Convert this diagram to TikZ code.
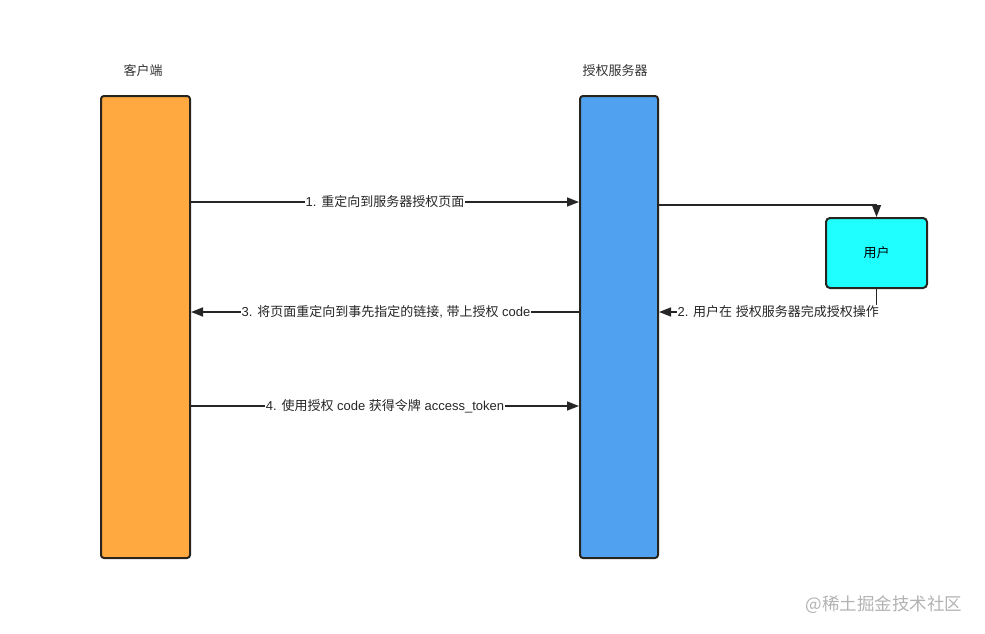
\documentclass[tikz,border=0pt]{standalone}
\usepackage{fontspec}
\setmainfont{Liberation Sans}
\newfontfamily\cjk{Noto Sans CJK SC}
\usetikzlibrary{arrows.meta}
\definecolor{orangebox}{RGB}{255,169,64}
\definecolor{bluebox}{RGB}{80,162,240}
\definecolor{cyanbox}{RGB}{32,255,255}
\definecolor{edge}{RGB}{40,36,30}
\tikzset{
  lane/.style={draw=edge, line width=2pt, rounded corners=3pt, minimum width=#1, anchor=north west, inner sep=0pt},
  title/.style={font=\fontsize{13}{15}\selectfont\cjk, text=black!80},
  msg/.style={font=\fontsize{13}{15}\selectfont, fill=white, inner sep=1pt, text=black!85},
  conn/.style={draw=black!85, line width=1.6pt, -{Triangle[length=12pt,width=9pt]}},
}
\begin{document}
\begin{tikzpicture}[x=1pt,y=-1pt]
\useasboundingbox (0,0) rectangle (985,634);
\node[lane=89pt, fill=orangebox, minimum height=462pt] (client) at (100,95) {};
\node[lane=78pt, fill=bluebox, minimum height=462pt] (server) at (579,95) {};
\node[draw=edge, line width=2pt, rounded corners=4pt, fill=cyanbox, minimum width=101pt, minimum height=70pt, inner sep=0pt, font=\fontsize{13}{15}\selectfont\cjk] (user) at (876.5,253) {用户};
\node[title] (tclient) at (143,71) {客户端};
\node[title] (tserver) at (615,71) {授权服务器};
% 1
\draw[conn] (client.east |- 0,202) -- node[msg] (m1) {1. {\cjk 重定向到服务器授权页面}} (server.west |- 0,202);
% 3
\draw[conn] (server.west |- 0,312) -- node[msg, xshift=1pt] (m3) {3. {\cjk 将页面重定向到事先指定的链接}, {\cjk 带上授权} code} (client.east |- 0,312);
% 4
\draw[conn] (client.east |- 0,406) -- node[msg] (m4) {4. {\cjk 使用授权} code {\cjk 获得令牌} access\_token} (server.west |- 0,406);
% server -> user
\draw[conn] (server.east |- 0,205) -| (user.north);
% user -> server
\coordinate (ucorner) at (user.south |- 0,312);
\draw[conn] (user.south) -- (ucorner) -- (server.east |- 0,312);
\node[msg, anchor=east] (m2) at (880,312) {2. {\cjk 用户在} {\cjk 授权服务器完成授权操作}};
\node[font=\fontsize{17.5}{20}\selectfont\cjk, text=black!30] (wm) at (884,605) {@稀土掘金技术社区};
\end{tikzpicture}
\end{document}
